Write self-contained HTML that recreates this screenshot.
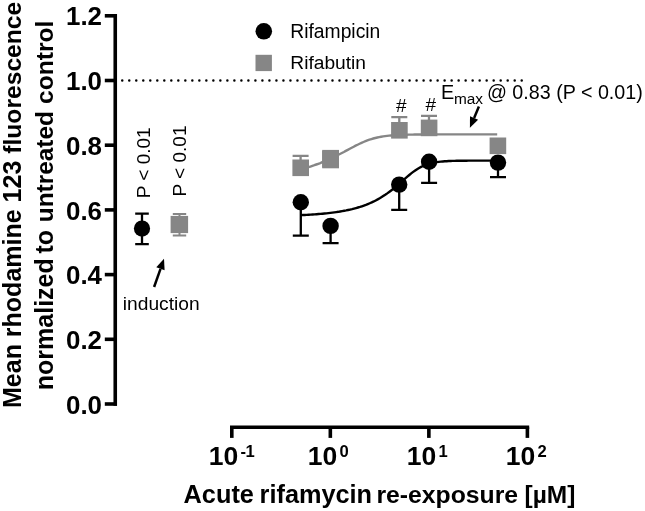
<!DOCTYPE html>
<html><head><meta charset="utf-8"><title>Chart</title>
<style>
html,body{margin:0;padding:0;background:#fff;}
svg{display:block;}
text{font-family:"Liberation Sans",sans-serif;fill:#000;}
.b{font-weight:bold;}
</style></head><body>
<svg width="645" height="511" viewBox="0 0 645 511">
<rect width="645" height="511" fill="#fff"/>

<line x1="122.25" y1="80.5" x2="522" y2="80.5" stroke="#000" stroke-width="2.5" stroke-linecap="round" stroke-dasharray="0 7.008" />
<path d="M115.25 14V405.8" stroke="#000" stroke-width="3.6" fill="none"/>
<path d="M104.8 404.0H117" stroke="#000" stroke-width="3.6" fill="none"/>
<text class="b" x="102" y="413.6" font-size="26.4" text-anchor="end" textLength="36" lengthAdjust="spacingAndGlyphs">0.0</text>
<path d="M104.8 339.3H117" stroke="#000" stroke-width="3.6" fill="none"/>
<text class="b" x="102" y="348.9" font-size="26.4" text-anchor="end" textLength="36" lengthAdjust="spacingAndGlyphs">0.2</text>
<path d="M104.8 274.6H117" stroke="#000" stroke-width="3.6" fill="none"/>
<text class="b" x="102" y="284.2" font-size="26.4" text-anchor="end" textLength="36" lengthAdjust="spacingAndGlyphs">0.4</text>
<path d="M104.8 209.9H117" stroke="#000" stroke-width="3.6" fill="none"/>
<text class="b" x="102" y="219.5" font-size="26.4" text-anchor="end" textLength="36" lengthAdjust="spacingAndGlyphs">0.6</text>
<path d="M104.8 145.2H117" stroke="#000" stroke-width="3.6" fill="none"/>
<text class="b" x="102" y="154.8" font-size="26.4" text-anchor="end" textLength="36" lengthAdjust="spacingAndGlyphs">0.8</text>
<path d="M104.8 80.5H117" stroke="#000" stroke-width="3.6" fill="none"/>
<text class="b" x="102" y="90.1" font-size="26.4" text-anchor="end" textLength="36" lengthAdjust="spacingAndGlyphs">1.0</text>
<path d="M104.8 15.8H117" stroke="#000" stroke-width="3.6" fill="none"/>
<text class="b" x="102" y="25.4" font-size="26.4" text-anchor="end" textLength="36" lengthAdjust="spacingAndGlyphs">1.2</text>
<path d="M230 427.2H529.2" stroke="#000" stroke-width="3.5" fill="none"/>
<path d="M231.80 427.2V437.9" stroke="#000" stroke-width="3.6" fill="none"/>
<text class="b" x="208.7" y="465" font-size="26.5">10<tspan font-size="16.6" dy="-8.2" dx="2.4" letter-spacing="-0.6">-1</tspan></text>
<path d="M330.33 427.2V437.9" stroke="#000" stroke-width="3.6" fill="none"/>
<text class="b" x="307.7" y="465" font-size="26.5">10<tspan font-size="16.6" dy="-8.2" dx="2.4" letter-spacing="-0.6">0</tspan></text>
<path d="M428.86 427.2V437.9" stroke="#000" stroke-width="3.6" fill="none"/>
<text class="b" x="406.7" y="465" font-size="26.5">10<tspan font-size="16.6" dy="-8.2" dx="2.4" letter-spacing="-0.6">1</tspan></text>
<path d="M527.39 427.2V437.9" stroke="#000" stroke-width="3.6" fill="none"/>
<text class="b" x="505.7" y="465" font-size="26.5">10<tspan font-size="16.6" dy="-8.2" dx="2.4" letter-spacing="-0.6">2</tspan></text>
<text class="b" y="502.6" font-size="25.3"><tspan x="183.6">Acute </tspan><tspan x="259.6">rifamycin </tspan><tspan x="376.4" font-size="24.75">re-exposure </tspan><tspan x="524.6" font-size="24.5">[µM]</tspan></text>
<text class="b" transform="translate(21 0) rotate(-90)" font-size="25"><tspan x="-408">Mean rhodamine 123 </tspan><tspan font-size="24.65">fluorescence</tspan></text>
<text class="b" transform="translate(53 0) rotate(-90)" font-size="25"><tspan x="-390.2">normalized </tspan><tspan x="-253.5">to </tspan><tspan x="-222.2" font-size="24.4">untreated </tspan><tspan x="-104" font-size="24.6">control</tspan></text>
<path d="M300.6 169.43 L302.6 168.90 L304.5 168.34 L306.5 167.76 L308.5 167.15 L310.4 166.53 L312.4 165.87 L314.4 165.20 L316.3 164.50 L318.3 163.77 L320.3 163.01 L322.2 162.23 L324.2 161.42 L326.2 160.59 L328.1 159.72 L330.1 158.83 L332.1 157.91 L334.0 156.97 L336.0 156.00 L338.0 155.01 L339.9 154.00 L341.9 152.98 L343.9 151.94 L345.8 150.89 L347.8 149.83 L349.8 148.78 L351.7 147.74 L353.7 146.70 L355.6 145.69 L357.6 144.71 L359.6 143.76 L361.5 142.86 L363.5 141.99 L365.5 141.18 L367.4 140.43 L369.4 139.73 L371.4 139.09 L373.3 138.51 L375.3 137.99 L377.3 137.52 L379.2 137.10 L381.2 136.73 L383.2 136.41 L385.1 136.12 L387.1 135.88 L389.1 135.66 L391.0 135.48 L393.0 135.32 L395.0 135.18 L396.9 135.07 L398.9 134.97 L400.9 134.88 L402.8 134.81 L404.8 134.75 L406.8 134.69 L408.7 134.65 L410.7 134.61 L412.7 134.58 L414.6 134.55 L416.6 134.53 L418.6 134.51 L420.5 134.49 L422.5 134.48 L424.5 134.46 L426.4 134.45 L428.4 134.45 L430.4 134.44 L432.3 134.43 L434.3 134.43 L436.3 134.42 L438.2 134.42 L440.2 134.42 L442.2 134.41 L444.1 134.41 L446.1 134.41 L448.1 134.41 L450.0 134.41 L452.0 134.41 L453.9 134.41 L455.9 134.40 L457.9 134.40 L459.8 134.40 L461.8 134.40 L463.8 134.40 L465.7 134.40 L467.7 134.40 L469.7 134.40 L471.6 134.40 L473.6 134.40 L475.6 134.40 L477.5 134.40 L479.5 134.40 L481.5 134.40 L483.4 134.40 L485.4 134.40 L487.4 134.40 L489.3 134.40 L491.3 134.40 L493.3 134.40 L495.2 134.40 L497.2 134.40" stroke="#868686" stroke-width="2.4" fill="none"/>
<path d="M300.8 215.12 L302.8 215.03 L304.7 214.94 L306.7 214.83 L308.7 214.72 L310.7 214.60 L312.6 214.48 L314.6 214.34 L316.6 214.20 L318.5 214.05 L320.5 213.88 L322.5 213.71 L324.5 213.52 L326.4 213.32 L328.4 213.11 L330.4 212.88 L332.4 212.64 L334.3 212.38 L336.3 212.10 L338.3 211.81 L340.2 211.49 L342.2 211.16 L344.2 210.80 L346.2 210.42 L348.1 210.01 L350.1 209.57 L352.1 209.11 L354.0 208.61 L356.0 208.08 L358.0 207.52 L360.0 206.92 L361.9 206.28 L363.9 205.59 L365.9 204.86 L367.8 204.09 L369.8 203.26 L371.8 202.38 L373.8 201.45 L375.7 200.45 L377.7 199.40 L379.7 198.28 L381.7 197.09 L383.6 195.84 L385.6 194.53 L387.6 193.14 L389.5 191.68 L391.5 190.17 L393.5 188.59 L395.5 186.95 L397.4 185.27 L399.4 183.56 L401.4 181.82 L403.3 180.07 L405.3 178.34 L407.3 176.63 L409.3 174.97 L411.2 173.38 L413.2 171.87 L415.2 170.46 L417.1 169.16 L419.1 167.98 L421.1 166.92 L423.1 165.98 L425.0 165.15 L427.0 164.43 L429.0 163.81 L431.0 163.28 L432.9 162.83 L434.9 162.45 L436.9 162.13 L438.8 161.86 L440.8 161.64 L442.8 161.46 L444.8 161.30 L446.7 161.18 L448.7 161.07 L450.7 160.99 L452.6 160.92 L454.6 160.86 L456.6 160.81 L458.6 160.77 L460.5 160.74 L462.5 160.72 L464.5 160.70 L466.4 160.68 L468.4 160.66 L470.4 160.65 L472.4 160.64 L474.3 160.64 L476.3 160.63 L478.3 160.62 L480.3 160.62 L482.2 160.62 L484.2 160.61 L486.2 160.61 L488.1 160.61 L490.1 160.61 L492.1 160.61 L494.1 160.60 L496.0 160.60 L498.0 160.60" stroke="#000" stroke-width="2.4" fill="none"/>
<path d="M300.8 202.2V235.6M292.8 235.6H308.8" stroke="#000" stroke-width="2.3" fill="none"/>
<path d="M330.6 225.9V243.1M322.6 243.1H338.6" stroke="#000" stroke-width="2.3" fill="none"/>
<path d="M399.2 184.6V209.8M391.2 209.8H407.2" stroke="#000" stroke-width="2.3" fill="none"/>
<path d="M429.1 161.8V182.9M421.1 182.9H437.1" stroke="#000" stroke-width="2.3" fill="none"/>
<path d="M498 162.6V177.1M490.0 177.1H506.0" stroke="#000" stroke-width="2.3" fill="none"/>
<path d="M300.6 167.6V155.8M292.6 155.8H308.6" stroke="#868686" stroke-width="2.3" fill="none"/>
<path d="M399.3 130.1V117.2M391.3 117.2H407.3" stroke="#868686" stroke-width="2.3" fill="none"/>
<path d="M429.0 127.7V115.8M421.0 115.8H437.0" stroke="#868686" stroke-width="2.3" fill="none"/>
<circle cx="300.8" cy="202.2" r="8.2" fill="#000"/>
<circle cx="330.6" cy="225.9" r="8.2" fill="#000"/>
<circle cx="399.2" cy="184.6" r="8.2" fill="#000"/>
<circle cx="429.1" cy="161.8" r="8.2" fill="#000"/>
<circle cx="498" cy="162.6" r="8.2" fill="#000"/>
<rect x="292.4" y="159.5" width="16.6" height="16.6" fill="#868686"/>
<rect x="322.2" y="150.9" width="16.6" height="16.6" fill="#868686"/>
<rect x="391.1" y="122.0" width="16.6" height="16.6" fill="#868686"/>
<rect x="420.8" y="119.6" width="16.6" height="16.6" fill="#868686"/>
<rect x="489.6" y="137.5" width="16.6" height="16.6" fill="#868686"/>
<rect x="322.2" y="149.9" width="16.8" height="18.4" fill="#868686"/>
<path d="M142 213.7V244.1M135.2 213.7H148.8M135.2 244.1H148.8" stroke="#000" stroke-width="2.3" fill="none"/>
<circle cx="142" cy="228.6" r="8.1" fill="#000"/>
<path d="M179.5 213.9V235.5M172.8 213.9H186.2M172.8 235.5H186.2" stroke="#868686" stroke-width="2.0" fill="none"/>
<rect x="170.6" y="215.9" width="17.5" height="17.2" fill="#868686"/>
<circle cx="263.8" cy="31.3" r="8.3" fill="#000"/>
<rect x="255.5" y="54.8" width="16.4" height="16.3" fill="#868686"/>
<text x="290.3" y="37.5" font-size="19.3">Rifampicin</text>
<text x="290.3" y="69.2" font-size="19.2">Rifabutin</text>
<text transform="translate(149.6 198.3) rotate(-90)" font-size="19">P &lt; 0.01</text>
<text transform="translate(185.8 196.5) rotate(-90)" font-size="19">P &lt; 0.01</text>
<text x="122.8" y="310.4" font-size="19.2">induction</text>
<text x="401.3" y="111.5" font-size="19" text-anchor="middle">#</text>
<text x="430.8" y="110.8" font-size="19" text-anchor="middle">#</text>
<text x="441" y="99.1" font-size="19.8">E<tspan font-size="15.4" dy="5" dx="-0.3">max</tspan></text>
<text x="486.9" y="99.1" font-size="19.7">@ 0.83 (P &lt; 0.01)</text>
<path d="M154.1 287.0L160.5 268.8" stroke="#000" stroke-width="2.5" fill="none"/>
<path d="M164.0 258.8L164.6 270.3L156.3 267.3Z" fill="#000"/>
<path d="M478.9 106.6L474.1 117.9" stroke="#000" stroke-width="2.5" fill="none"/>
<path d="M469.9 127.7L470.0 116.2L478.1 119.7Z" fill="#000"/>
</svg></body></html>
